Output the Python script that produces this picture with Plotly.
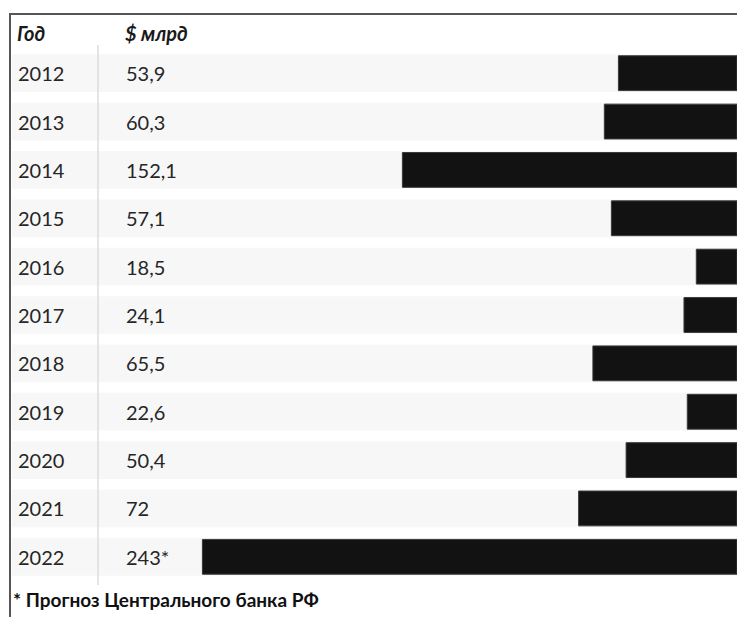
import plotly.graph_objects as go

years = ["2012", "2013", "2014", "2015", "2016", "2017", "2018", "2019", "2020", "2021", "2022"]
values = [53.9, 60.3, 152.1, 57.1, 18.5, 24.1, 65.5, 22.6, 50.4, 72, 243]
value_labels = ["53,9", "60,3", "152,1", "57,1", "18,5", "24,1", "65,5", "22,6", "50,4", "72", "243*"]
header_year = "Год"
header_value = "$ млрд"
footnote = "* Прогноз Центрального банка РФ"

W, H = 737, 617
L, R, T, B = 12, 0, 49, 36
px_per_unit = 2.2
plot_w = W - L - R
plot_h = H - T - B
xmax = plot_w / px_per_unit

FONT = "Lato"

fig = go.Figure()
# background row bands
fig.add_trace(go.Bar(
    y=years, x=[xmax] * len(years), orientation="h",
    marker=dict(color="#f7f7f7", line=dict(width=0)),
    width=0.78, hoverinfo="skip", showlegend=False,
))
fig.add_trace(go.Bar(
    y=years, x=values, orientation="h",
    marker=dict(color="#121212", line=dict(color="#3a3a3a", width=1)),
    width=0.72, showlegend=False,
))

ann = []
for i, (yr, lab) in enumerate(zip(years, value_labels)):
    ann.append(dict(x=(16 - L) / plot_w, y=i, xref="paper", yref="y", text=yr,
                    showarrow=False, xanchor="left", yanchor="middle",
                    font=dict(family=FONT, size=20, color="#262626")))
    ann.append(dict(x=(124 - L) / plot_w, y=i, xref="paper", yref="y", text=lab,
                    showarrow=False, xanchor="left", yanchor="middle",
                    font=dict(family=FONT, size=20, color="#262626")))

# headers and footnote (plot-area paper coords)
ann.append(dict(x=(15 - L) / plot_w, y=1 + (T - 33) / plot_h, xref="paper", yref="paper",
                text="<b><i>" + header_year + "</i></b>",
                showarrow=False, xanchor="left", yanchor="middle",
                font=dict(family=FONT, size=20, color="#1a1a1a")))
ann.append(dict(x=(123 - L) / plot_w, y=1 + (T - 33) / plot_h, xref="paper", yref="paper",
                text="<b><i>" + header_value + "</i></b>",
                showarrow=False, xanchor="left", yanchor="middle",
                font=dict(family=FONT, size=20, color="#1a1a1a")))
ann.append(dict(x=(11 - L) / plot_w, y=-(599 - (H - B)) / plot_h, xref="paper", yref="paper",
                text="<b>" + footnote + "</b>",
                showarrow=False, xanchor="left", yanchor="middle",
                font=dict(family=FONT, size=19, color="#111111")))

shapes = [
    # top border
    dict(type="line", xref="paper", yref="paper", x0=(10 - L) / plot_w, x1=1.0,
         y0=1 + (T - 14) / plot_h, y1=1 + (T - 14) / plot_h,
         line=dict(color="#555555", width=2)),
    # left border
    dict(type="line", xref="paper", yref="paper", x0=(10 - L) / plot_w, x1=(10 - L) / plot_w,
         y0=1 + (T - 13) / plot_h, y1=-B / plot_h,
         line=dict(color="#555555", width=2)),
    # column separator
    dict(type="line", xref="paper", yref="paper", x0=(98 - L) / plot_w, x1=(98 - L) / plot_w,
         y0=1 + (T - 45) / plot_h, y1=-(585 - (H - B)) / plot_h,
         line=dict(color="#dddddd", width=1.5)),
]

fig.update_layout(
    width=W, height=H,
    margin=dict(l=L, r=R, t=T, b=B),
    paper_bgcolor="white", plot_bgcolor="white",
    barmode="overlay",
    xaxis=dict(range=[xmax, 0], visible=False, fixedrange=True),
    yaxis=dict(type="category", categoryorder="array", categoryarray=years,
               range=[len(years) - 0.5, -0.5], autorange=False,
               visible=False, fixedrange=True),
    annotations=ann,
    shapes=shapes,
    showlegend=False,
)

fig.write_html("out.html")
